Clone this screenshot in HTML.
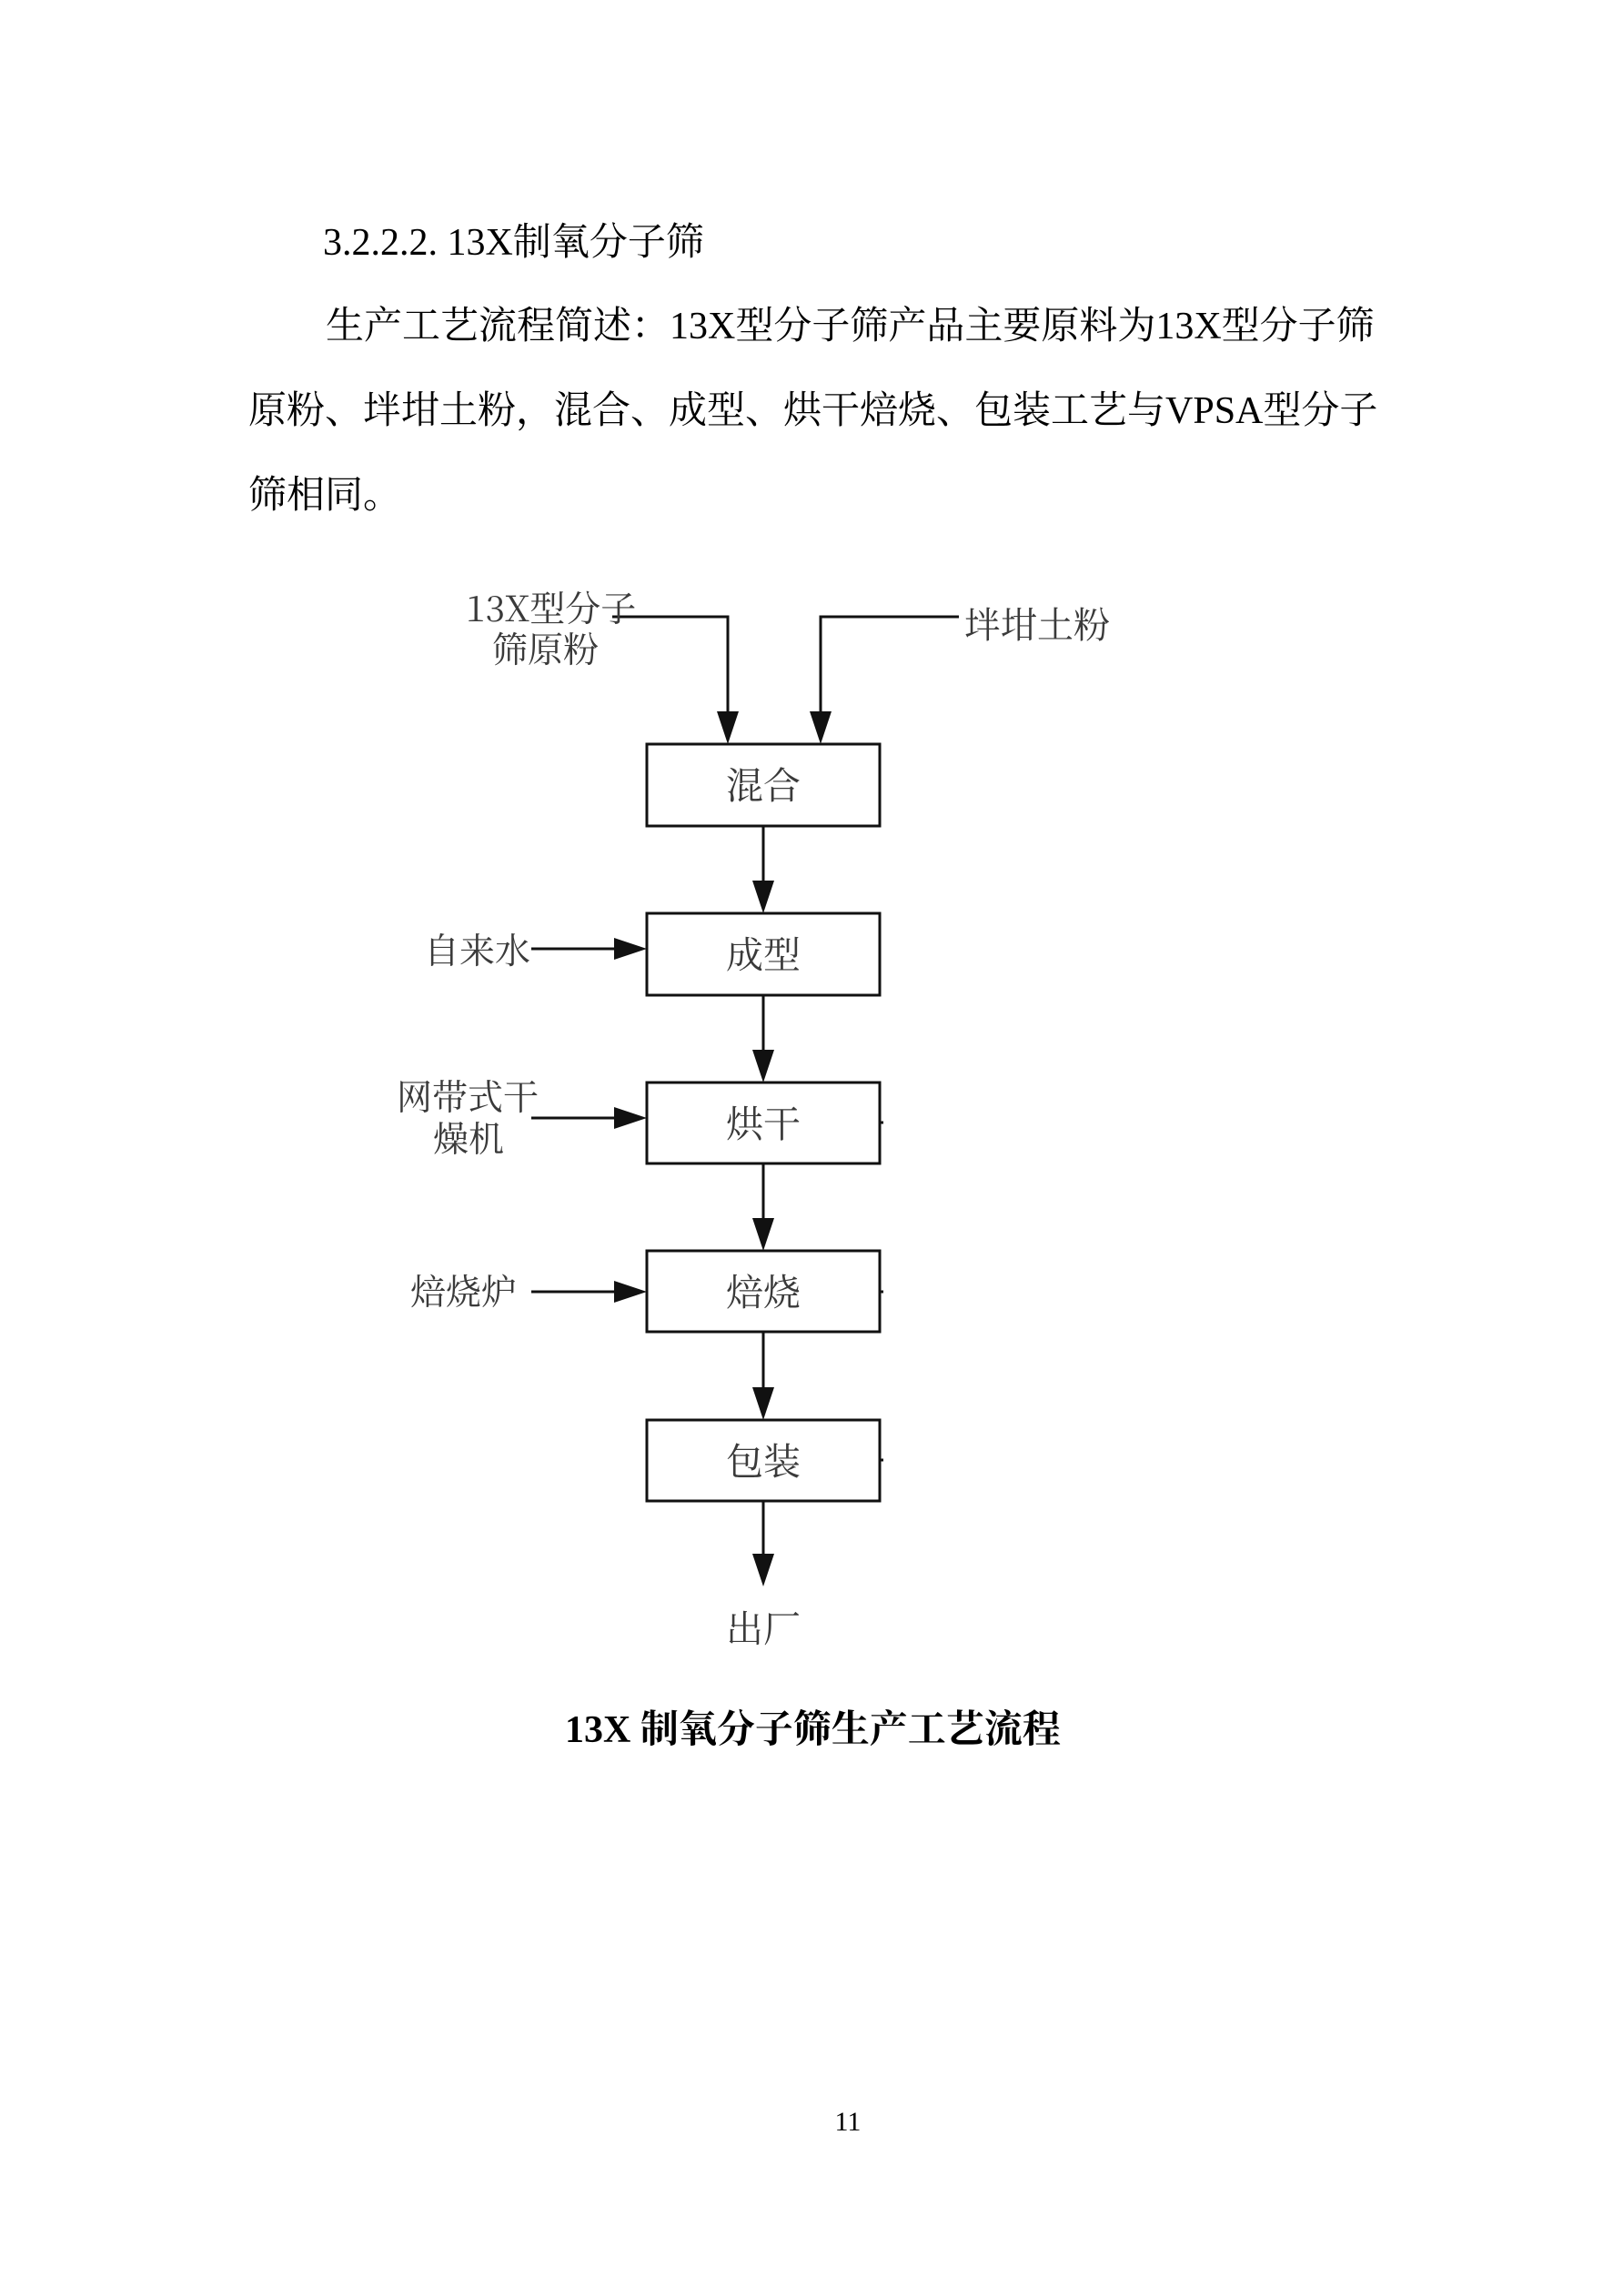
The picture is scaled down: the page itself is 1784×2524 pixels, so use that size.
<!DOCTYPE html>
<html>
<head>
<meta charset="utf-8">
<style>
  html, body { margin:0; padding:0; background:#fff; }
  body { width:1784px; height:2524px; position:relative; overflow:hidden; }
  .t { position:absolute; white-space:nowrap; font-family:"Liberation Serif","Noto Serif CJK SC",serif; font-size:42px; line-height:60px; color:#000; }
  .lb { position:absolute; white-space:nowrap; font-family:"Noto Serif CJK SC","Liberation Serif",serif; font-size:39px; line-height:50px; color:#3a3a3a; }
  .bx { position:absolute; width:256px; text-align:center; font-family:"Noto Serif CJK SC",serif; font-size:41px; line-height:50px; color:#3a3a3a; }
  svg { position:absolute; left:0; top:0; }
</style>
</head>
<body>

<div class="t" style="left:355px; top:237px;">3.2.2.2. 13X制氧分子筛</div>
<div class="t" style="left:358px; top:329px;">生产工艺流程简述：13X型分子筛产品主要原料为13X型分子筛</div>
<div class="t" style="left:273px; top:422px;">原粉、坢坩土粉，混合、成型、烘干焙烧、包装工艺与VPSA型分子</div>
<div class="t" style="left:273px; top:515px;">筛相同。</div>

<svg width="1784" height="2524" viewBox="0 0 1784 2524">
  <g fill="none" stroke="#111" stroke-width="3">
    <!-- boxes -->
    <rect x="711" y="818" width="256" height="90"/>
    <rect x="711" y="1004" width="256" height="90"/>
    <rect x="711" y="1190" width="256" height="89"/>
    <rect x="711" y="1375" width="256" height="89"/>
    <rect x="711" y="1561" width="256" height="89"/>
    <!-- top inputs -->
    <polyline points="673,678 800,678 800,790"/>
    <polyline points="1054,678 902,678 902,790"/>
    <!-- vertical flow -->
    <line x1="839" y1="908" x2="839" y2="975"/>
    <line x1="839" y1="1094" x2="839" y2="1161"/>
    <line x1="839" y1="1279" x2="839" y2="1346"/>
    <line x1="839" y1="1464" x2="839" y2="1532"/>
    <line x1="839" y1="1650" x2="839" y2="1715"/>
    <!-- side inputs -->
    <line x1="584" y1="1043" x2="682" y2="1043"/>
    <line x1="584" y1="1229" x2="682" y2="1229"/>
    <line x1="584" y1="1420" x2="682" y2="1420"/>
    <!-- small ticks on right edges -->
    <line x1="967" y1="1234" x2="971" y2="1234"/>
    <line x1="967" y1="1420" x2="971" y2="1420"/>
    <line x1="967" y1="1605" x2="971" y2="1605"/>
  </g>
  <g fill="#111" stroke="none">
    <polygon points="788,782 812,782 800,818"/>
    <polygon points="890,782 914,782 902,818"/>
    <polygon points="827,968 851,968 839,1004"/>
    <polygon points="827,1154 851,1154 839,1190"/>
    <polygon points="827,1339 851,1339 839,1375"/>
    <polygon points="827,1525 851,1525 839,1561"/>
    <polygon points="827,1708 851,1708 839,1744"/>
    <polygon points="675,1031 675,1055 711,1043"/>
    <polygon points="675,1217 675,1241 711,1229"/>
    <polygon points="675,1408 675,1432 711,1420"/>
  </g>
</svg>

<!-- labels -->
<div class="lb" style="left:512px; top:642px;">13X型分子</div>
<div class="lb" style="left:541px; top:687px;">筛原粉</div>
<div class="lb" style="left:1060px; top:660px; font-size:40px;">坢坩土粉</div>
<div class="lb" style="left:466px; top:1018px;">自来水</div>
<div class="lb" style="left:436px; top:1179px;">网带式干</div>
<div class="lb" style="left:476px; top:1225px;">燥机</div>
<div class="lb" style="left:451px; top:1393px;">焙烧炉</div>

<!-- box texts -->
<div class="bx" style="left:711px; top:836px;">混合</div>
<div class="bx" style="left:711px; top:1022px;">成型</div>
<div class="bx" style="left:711px; top:1208px;">烘干</div>
<div class="bx" style="left:711px; top:1393px;">焙烧</div>
<div class="bx" style="left:711px; top:1579px;">包装</div>

<div class="bx" style="left:711px; top:1763px;">出厂</div>

<!-- caption -->
<div class="t" style="left:621px; top:1872px; font-weight:bold;">13X 制氧分子筛生产工艺流程</div>

<!-- page number -->
<div class="t" style="left:902px; top:2313px; width:60px; text-align:center; font-size:30px; line-height:40px;">11</div>

</body>
</html>
